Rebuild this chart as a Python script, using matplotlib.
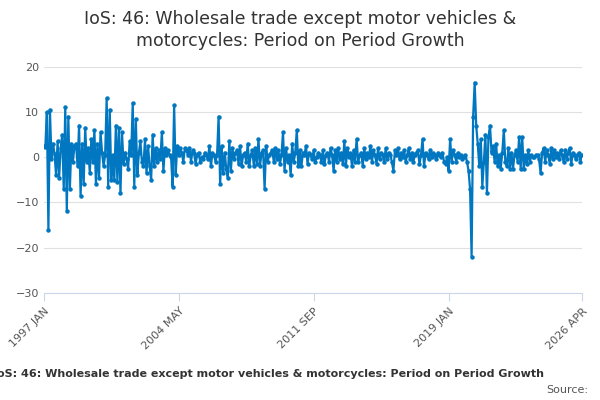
import matplotlib
matplotlib.use("Agg")
import matplotlib.pyplot as plt
import numpy as np

start_year, start_month = 1997, 1
values = [
 # 1997
 2.5, 2.3, 10.0, -16.0, 10.5, -0.5, 3.0, 0.8, -4.0, 3.5, -4.5, 2.0,
 # 1998
 5.0, -7.0, 11.0, -12.0, 9.0, -7.0, 3.0, -1.0, 2.5, 3.0, -2.0, 7.0,
 # 1999
 -8.5, 3.0, -6.0, 6.5, -1.0, 2.0, -3.5, 4.0, -1.0, 6.0, -6.0, 3.0,
 # 2000
 -4.5, 5.5, 1.0, -2.0, 0.5, 13.0, -6.5, 10.5, -5.0, 0.5, -5.0, 7.0,
 # 2001
 -5.5, 6.5, -8.0, 5.5, -1.5, 1.0, -0.5, -2.5, 3.5, 0.5, 12.0, -6.5,
 # 2002
 8.5, -4.0, 1.0, 3.5, -1.0, -2.0, 4.0, -3.5, 2.5, -2.0, -5.0, 5.0,
 # 2003
 -2.0, 2.0, -1.0, 1.5, -0.5, 5.5, -3.0, 2.0, 0.5, 1.5, 0.5, 0.0,
 # 2004
 -6.5, 11.5, -4.0, 2.5, 0.5, 2.0, 1.0, -1.0, 2.0, 1.5, 0.5, 2.0,
 # 2005
 -1.0, 1.5, 1.0, -1.5, 0.5, 1.0, -1.0, 0.0, -0.5, 1.0, 0.5, -0.5,
 # 2006
 2.5, -2.0, 1.0, 0.5, -1.0, 0.5, 9.0, -6.0, 2.5, -3.5, 1.0, -2.5,
 # 2007
 -4.5, 3.5, -3.0, 2.0, -0.5, 1.0, 1.5, -1.5, 2.5, -2.0, 0.5, 1.0,
 # 2008
 -1.0, 3.0, -2.0, 0.5, 1.5, -2.0, 2.0, -1.5, 4.0, -2.0, 1.0, 1.5,
 # 2009
 -7.0, 2.5, -1.0, 0.5, 1.0, 1.5, -1.0, 2.0, -0.5, 1.5, -1.5, 0.5,
 # 2010
 5.5, -3.0, 2.0, -1.0, 0.5, -4.0, 3.0, -1.0, 1.0, 6.0, -2.0, 1.5,
 # 2011
 -2.0, 1.0, 0.5, 2.5, -1.5, 1.0, 0.5, -0.5, 1.5, -1.0, 0.0, 1.0,
 # 2012
 0.5, -1.0, 1.5, -1.5, 0.5, 1.0, -1.0, 2.0, 0.5, -3.0, 1.5, -1.0,
 # 2013
 2.0, -0.5, 1.0, -1.5, 3.5, -2.0, 2.0, 0.0, 1.0, -2.0, 1.5, -1.0,
 # 2014
 4.0, -1.0, 0.5, 1.0, -2.0, 2.0, -0.5, 1.0, 0.0, 2.5, -1.0, 1.5,
 # 2015
 0.5, -1.5, 2.0, -0.5, 1.0, 0.5, -1.0, 2.0, -0.5, 1.0, 0.5, -1.0,
 # 2016
 -3.0, 1.5, 0.5, 2.0, -0.5, 1.0, 0.0, 1.5, -1.0, 0.5, 2.0, -0.5,
 # 2017
 1.0, -1.0, 0.5, 1.0, 1.5, -1.5, 0.5, 4.0, -2.0, 1.0, 0.5, -0.5,
 # 2018
 1.5, 0.0, 1.0, 0.5, -0.5, 1.0, 0.5, 0.0, 1.0, -1.0, -1.5, 0.0,
 # 2019
 -3.0, 4.0, -1.0, 1.5, 0.5, -1.0, 1.0, 0.0, 0.5, -0.5, 0.0, 0.5,
 # 2020
 -1.0, -3.0, -7.0, -22.0, 9.0, 16.5, 7.0, 3.0, -2.0, 4.0, -6.5, -1.0,
 # 2021
 5.0, -8.0, 4.5, 7.0, 1.0, 2.5, -1.0, 3.0, -2.0, 0.5, -2.5, 1.0,
 # 2022
 6.0, -1.0, -2.0, 2.0, -2.5, 1.0, -2.5, 0.5, 1.5, -1.0, 4.5, -2.5,
 # 2023
 4.5, -2.5, 0.5, -1.5, 1.5, -1.0, 0.5, 0.0, 0.0, 0.5, 0.5, -0.5,
 # 2024
 -3.5, 1.0, 2.0, -1.0, 1.5, 0.5, -1.5, 2.0, -0.5, 1.5, 0.0, 1.0,
 # 2025
 -0.5, 1.5, 0.5, -1.0, 1.5, -0.5, 1.0, 2.0, -1.5, 1.0, 0.5, -0.5,
 # 2026
 0.5, 1.0, -1.0, 0.5,
]
tick_labels = ["1997 JAN", "2004 MAY", "2011 SEP", "2019 JAN", "2026 APR"]
tick_idx = [0, 88, 176, 264, 351]

x = np.arange(len(values))

fig = plt.figure(figsize=(6, 4), dpi=100)
ax = fig.add_axes([0.073, 0.268, 0.897, 0.565])
ax.plot(x, values, color="#0077c0", lw=1.6, marker="o", ms=2.2)
ax.set_xlim(0, len(values) - 1)
ax.set_ylim(-30, 20)
ax.set_yticks([-30, -20, -10, 0, 10, 20])
ax.grid(axis="y", color="#e0e0e0", lw=0.8)
ax.set_axisbelow(True)
for s in ["top", "right", "left"]:
    ax.spines[s].set_visible(False)
ax.spines["bottom"].set_color("#ccd6eb")
ax.set_xticks(tick_idx)
ax.set_xticklabels(tick_labels, rotation=45, ha="right", rotation_mode="anchor",
                   fontsize=8, color="#555555")
ax.tick_params(axis="y", length=0, labelsize=8, labelcolor="#555555")
ax.tick_params(axis="x", color="#ccd6eb", length=6)

fig.text(0.5, 0.975, "IoS: 46: Wholesale trade except motor vehicles &\nmotorcycles: Period on Period Growth",
         ha="center", va="top", fontsize=12.5, color="#333333", linespacing=1.3)
fig.text(-0.012, 0.065, "IoS: 46: Wholesale trade except motor vehicles & motorcycles: Period on Period Growth",
         ha="left", va="center", fontsize=8, fontweight="bold", color="#333333")
fig.text(0.98, 0.025, "Source:", ha="right", va="center", fontsize=8, color="#555555")

fig.savefig("out.png", dpi=100)
